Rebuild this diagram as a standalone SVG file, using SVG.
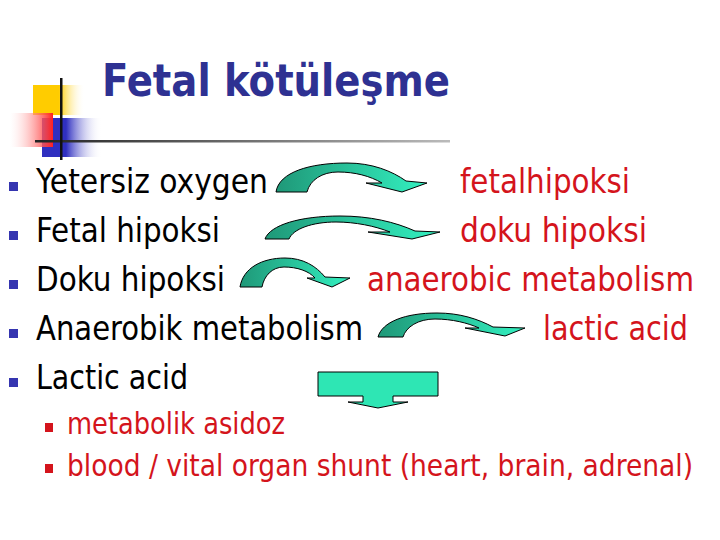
<svg xmlns="http://www.w3.org/2000/svg" width="720" height="540" viewBox="0 0 720 540">
<defs>
<style>
.t{font-family:"DejaVu Sans Condensed","DejaVu Sans",sans-serif;font-stretch:condensed}
.body{font-size:33.5px;fill:#000}
.red{fill:#d4141c}
.sub{font-size:30px;fill:#d4141c}
.title{font-size:44px;font-weight:bold;fill:#2e3192}
.arrow{fill:url(#ag);stroke:#000;stroke-width:1;stroke-linejoin:miter}
.b1{fill:#3535b0}
.b2{fill:#d4141c}
</style>
<linearGradient id="ag" x1="0" y1="0" x2="1" y2="0">
<stop offset="0" stop-color="#1f9878"/>
<stop offset="1" stop-color="#33f0c0"/>
</linearGradient>
<linearGradient id="gy" x1="0" y1="0" x2="1" y2="0">
<stop offset="0" stop-color="#ffcc00"/>
<stop offset="0.5" stop-color="#ffcc00"/>
<stop offset="1" stop-color="#ffffff" stop-opacity="0"/>
</linearGradient>
<linearGradient id="gr" x1="0" y1="0" x2="1" y2="0">
<stop offset="0" stop-color="#ffffff" stop-opacity="0.2"/>
<stop offset="1" stop-color="#ff2020"/>
</linearGradient>
<linearGradient id="gb" x1="0" y1="0" x2="1" y2="0">
<stop offset="0" stop-color="#2f2fc0"/>
<stop offset="0.4" stop-color="#2f2fc0"/>
<stop offset="1" stop-color="#ffffff" stop-opacity="0"/>
</linearGradient>
<linearGradient id="gl" x1="0" y1="0" x2="1" y2="0">
<stop offset="0" stop-color="#222"/>
<stop offset="1" stop-color="#bbb"/>
</linearGradient>
</defs>
<rect width="720" height="540" fill="#fff"/>
<g id="logo">
<rect x="33" y="85" width="52" height="30" fill="url(#gy)"/>
<rect x="42" y="118" width="60" height="39" fill="url(#gb)"/>
<rect x="10" y="113" width="43" height="34" fill="url(#gr)"/>
<rect x="35" y="140" width="415" height="2.5" fill="url(#gl)"/>
<rect x="60" y="78" width="2.5" height="82" fill="#111"/>
</g>
<g id="title"><text class="t title" x="102" y="96" textLength="348" lengthAdjust="spacingAndGlyphs">Fetal kötüleşme</text></g>
<g id="bullets">
<rect class="b1" x="9" y="182" width="9" height="9"/>
<rect class="b1" x="9" y="231" width="9" height="9"/>
<rect class="b1" x="9" y="280" width="9" height="9"/>
<rect class="b1" x="9" y="329" width="9" height="9"/>
<rect class="b1" x="9" y="378" width="9" height="9"/>
<rect class="b2" x="45" y="423" width="8" height="9"/>
<rect class="b2" x="45" y="464" width="8" height="9"/>
</g>
<g id="left-items">
<text class="t body" x="36" y="193" textLength="232" lengthAdjust="spacingAndGlyphs">Yetersiz oxygen</text>
<text class="t body" x="36" y="242" textLength="184" lengthAdjust="spacingAndGlyphs">Fetal hipoksi</text>
<text class="t body" x="36" y="291" textLength="189" lengthAdjust="spacingAndGlyphs">Doku hipoksi</text>
<text class="t body" x="36" y="340" textLength="327" lengthAdjust="spacingAndGlyphs">Anaerobik metabolism</text>
<text class="t body" x="36" y="389" textLength="152" lengthAdjust="spacingAndGlyphs">Lactic acid</text>
</g>
<g id="right-items">
<text class="t body red" x="460" y="193" textLength="170" lengthAdjust="spacingAndGlyphs">fetalhipoksi</text>
<text class="t body red" x="460" y="242" textLength="187" lengthAdjust="spacingAndGlyphs">doku hipoksi</text>
<text class="t body red" x="367" y="291" textLength="327" lengthAdjust="spacingAndGlyphs">anaerobic metabolism</text>
<text class="t body red" x="543" y="340" textLength="145" lengthAdjust="spacingAndGlyphs">lactic acid</text>
</g>
<g id="sub-items">
<text class="t sub" x="67" y="434" textLength="218" lengthAdjust="spacingAndGlyphs">metabolik asidoz</text>
<text class="t sub" x="67" y="476" textLength="626" lengthAdjust="spacingAndGlyphs">blood / vital organ shunt (heart, brain, adrenal)</text>
</g>
<g id="connectors">
<path class="arrow" d="M276,192 C279,172 310,163 347,163 C372,163 392,171 406,181 L427,183 L402,192 L366,183 L382,183 C370,176 355,172 338,172 C322,172 310,180 307,192 Z"/>
<path class="arrow" d="M265,239 C270,225 300,216 340,216 C370,216 395,222 415,231 L440,232 L412,239 L368,232 L390,232 C375,226 355,222 336,222 C312,222 293,229 289,239 Z"/>
<path class="arrow" d="M240,287 C243,268 262,258 285,258 C303,258 316,266 325,277 L350,278 L332,287 L307,278 L315,278 C309,271 297,267 284,267 C272,267 264,276 262,287 Z"/>
<path class="arrow" d="M378,337 C382,322 405,313 437,313 C460,313 478,319 493,327 L525,328 L505,336 L465,328 L479,328 C468,323 452,319 435,319 C418,319 406,327 403,337 Z"/>
<path d="M318,372 H438 V396 H393 V402 H408 L378,408 L348,402 H363 V396 H318 Z" fill="#2ee6b4" stroke="#000" stroke-width="1"/>
</g>
</svg>
